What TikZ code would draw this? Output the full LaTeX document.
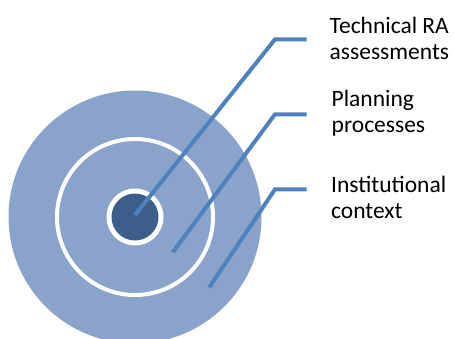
\documentclass[tikz,border=0pt]{standalone}
\usepackage{fontspec}
\setmainfont{Carlito}
\definecolor{outerblue}{HTML}{89A3CA}
\definecolor{darkblue}{HTML}{3B5E8B}
\definecolor{lineblue}{HTML}{4F81BD}
\tikzset{
  leader/.style={draw=lineblue, line width=4pt},
  lbl/.style={anchor=base west, inner sep=0pt, align=left, text=black,
    font=\fontsize{23.5}{26.5}\selectfont},
}
\begin{document}
\begin{tikzpicture}[x=1pt,y=-1pt]
\useasboundingbox (0,0) rectangle (454,339);
\clip (0,0) rectangle (454,339);
% circles
\node[circle, fill=outerblue, minimum size=253pt, inner sep=0pt] (outer) at (135,217) {};
\node[circle, draw=white, line width=4pt, minimum size=156pt, inner sep=0pt] (middle) at (135,217) {};
\node[circle, fill=white, minimum size=57pt, inner sep=0pt] (ring) at (135,217) {};
\node[circle, fill=darkblue, minimum size=47pt, inner sep=0pt] (core) at (135,217) {};
% labels (base anchor = baseline of last line)
\node[lbl] (t1) at (329.5,60) {Technical RA\\assessments};
\node[lbl] (t2) at (331.5,132.7) {Planning\\processes};
\node[lbl] (t3) at (331,218.5) {Institutional\\context};
% leader line points
\coordinate (s1) at (135,215);
\coordinate (s2) at (172.7,252.3);
\coordinate (s3) at (209.3,287.3);
\coordinate (k1) at (275,39.3);
\coordinate (k2) at (275,114.3);
\coordinate (k3) at (275,189.3);
\coordinate (e1) at (306.7,39.3);
\coordinate (e2) at (306.7,114.3);
\coordinate (e3) at (306.7,189.3);
\draw[leader] (s1) -- (k1) -- (e1);
\draw[leader] (s2) -- (k2) -- (e2);
\draw[leader] (s3) -- (k3) -- (e3);
\end{tikzpicture}
\end{document}
